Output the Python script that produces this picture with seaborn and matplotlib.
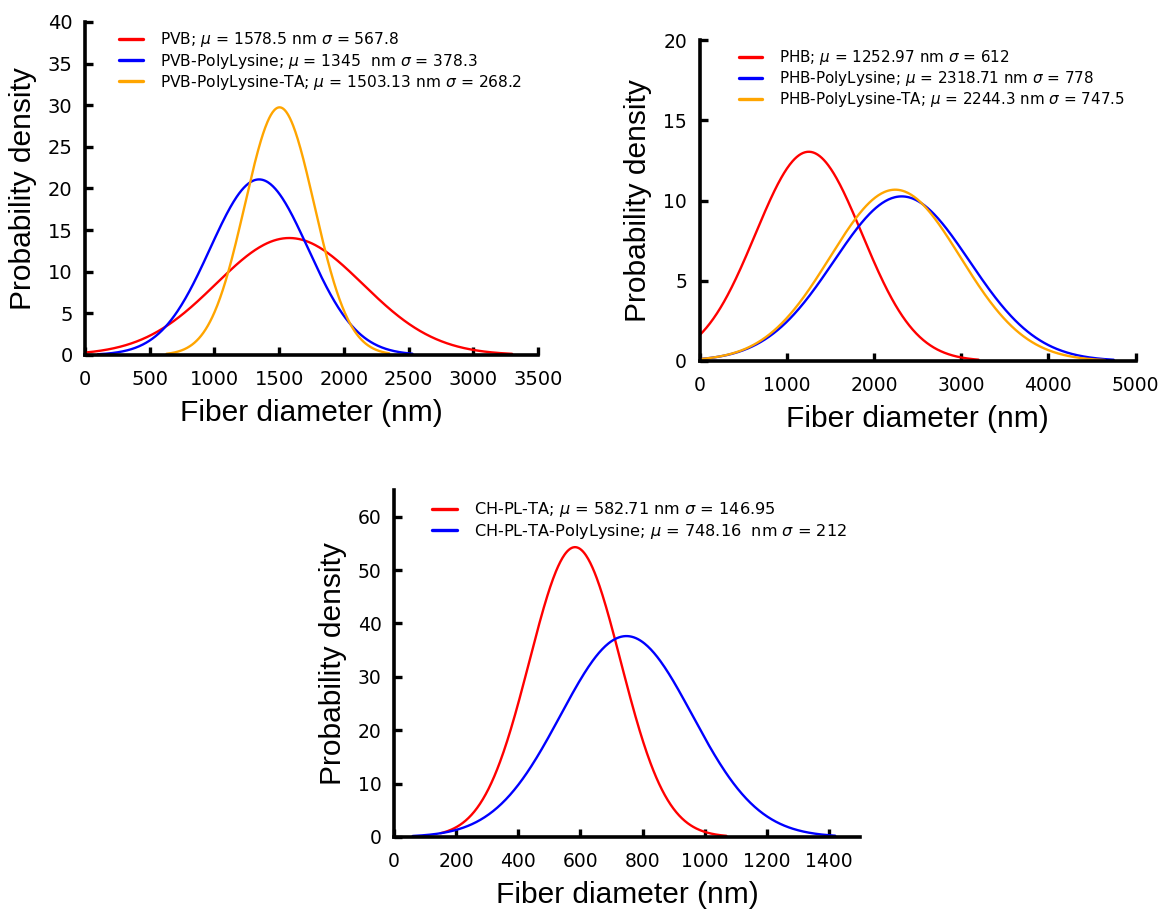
import numpy as np
import pandas as pd
import matplotlib
matplotlib.use("Agg")
import matplotlib.pyplot as plt
import seaborn as sns

# ---------------- data ----------------
area_scale = 20000  # curves are normal pdf x 20000

pvb_labels = [r"PVB; $\mu$ = 1578.5 nm $\sigma$ = 567.8",
              r"PVB-PolyLysine; $\mu$ = 1345  nm $\sigma$ = 378.3",
              r"PVB-PolyLysine-TA; $\mu$ = 1503.13 nm $\sigma$ = 268.2"]
pvb_mu = [1578.5, 1345, 1503.13]
pvb_sigma = [567.8, 378.3, 268.2]
pvb_start = [0, 100, 630]
pvb_end = [3300, 2530, 2350]

phb_labels = [r"PHB; $\mu$ = 1252.97 nm $\sigma$ = 612",
              r"PHB-PolyLysine; $\mu$ = 2318.71 nm $\sigma$ = 778",
              r"PHB-PolyLysine-TA; $\mu$ = 2244.3 nm $\sigma$ = 747.5"]
phb_mu = [1252.97, 2318.71, 2244.3]
phb_sigma = [612, 778, 747.5]
phb_start = [0, 0, 0]
phb_end = [3200, 4750, 4650]

ch_labels = [r"CH-PL-TA; $\mu$ = 582.71 nm $\sigma$ = 146.95",
             r"CH-PL-TA-PolyLysine; $\mu$ = 748.16  nm $\sigma$ = 212"]
ch_mu = [582.71, 748.16]
ch_sigma = [146.95, 212]
ch_start = [150, 60]
ch_end = [1070, 1420]

colors3 = ["#FF0000", "#0000FF", "#FFA500"]

# ---------------- helpers ----------------
def make_frame(labels, mus, sigmas, starts, ends):
    rows = []
    for lab, m, s, a, b in zip(labels, mus, sigmas, starts, ends):
        x = np.linspace(a, b, 400)
        y = area_scale * np.exp(-0.5 * ((x - m) / s) ** 2) / (s * np.sqrt(2 * np.pi))
        rows.append(pd.DataFrame({"x": x, "y": y, "series": lab}))
    return pd.concat(rows, ignore_index=True)


sns.set_theme(style="ticks")
plt.rcParams["font.family"] = ["DejaVu Sans"]
plt.rcParams["mathtext.fontset"] = "dejavusans"
plt.rcParams["text.color"] = "black"
plt.rcParams["axes.labelcolor"] = "black"
plt.rcParams["xtick.color"] = "black"
plt.rcParams["ytick.color"] = "black"

fig = plt.figure(figsize=(11.58, 9.10), dpi=100)

W, H = 1158, 910
def add_ax(left, right, bottom_px, top_px):
    return fig.add_axes([left / W, (H - bottom_px) / H, (right - left) / W, (bottom_px - top_px) / H])

ax1 = add_ax(85, 538, 355, 22)
ax2 = add_ax(699.5, 1135.5, 361, 40)
ax3 = add_ax(394, 860, 837, 490)

panels = [
    (ax1, make_frame(pvb_labels, pvb_mu, pvb_sigma, pvb_start, pvb_end), pvb_labels,
     (0, 3500), np.arange(0, 3501, 500), (0, 40), np.arange(0, 41, 5), 14, (0.075, 0.975), 11.2),
    (ax2, make_frame(phb_labels, phb_mu, phb_sigma, phb_start, phb_end), phb_labels,
     (0, 5000), np.arange(0, 5001, 1000), (0, 20), np.arange(0, 21, 5), 13.5, (0.09, 0.975), 10.9),
    (ax3, make_frame(ch_labels, ch_mu, ch_sigma, ch_start, ch_end), ch_labels,
     (0, 1500), np.arange(0, 1401, 200), (0, 65), np.arange(0, 61, 10), 13.5, (0.081, 0.97), 11.6),
]

for ax, df, labels, xlim, xt, ylim, yt, tfs, lpos, lfs in panels:
    sns.lineplot(data=df, x="x", y="y", hue="series", hue_order=labels,
                 palette=colors3[:len(labels)], linewidth=1.7, ax=ax, legend=True)
    ax.set_xlim(*xlim)
    ax.set_ylim(*ylim)
    ax.set_xticks(xt)
    ax.set_yticks(yt)
    for side in ["top", "right"]:
        ax.spines[side].set_visible(False)
    for side in ["left", "bottom"]:
        ax.spines[side].set_linewidth(2.6)
        ax.spines[side].set_color("black")
    ax.tick_params(direction="in", length=6, width=2.4, labelsize=tfs, colors="black", pad=9)
    ax.tick_params(axis="x", pad=11)
    ax.set_xlabel("Fiber diameter (nm)", fontsize=21.5, family="Liberation Sans", labelpad=7,
                  color="black")
    ax.set_ylabel("Probability density", fontsize=21.5, family="Liberation Sans", labelpad=8,
                  color="black")
    ax.patch.set_alpha(0)
    leg = ax.legend(loc="upper left", bbox_to_anchor=lpos, frameon=False, fontsize=lfs,
                    handlelength=1.55, handletextpad=1.1, borderaxespad=0, borderpad=0,
                    labelspacing=0.14)
    for line in leg.get_lines():
        line.set_linewidth(2.4)
    for t in leg.get_texts():
        t.set_color("black")

fig.savefig("out.png", dpi=100)
